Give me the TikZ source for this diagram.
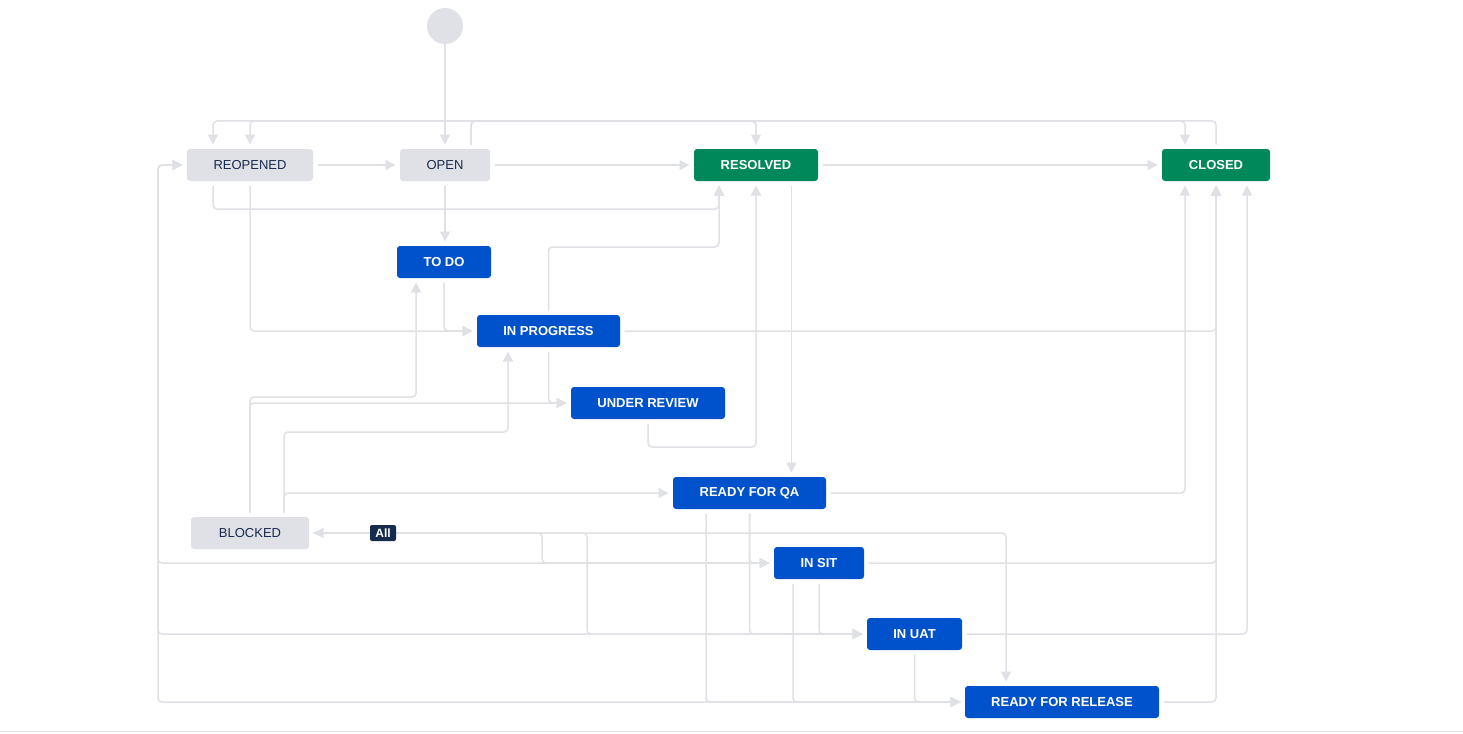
\documentclass[tikz,border=0pt]{standalone}
\usepackage{fontspec}
\setmainfont{Liberation Sans}
\usetikzlibrary{arrows.meta}
\definecolor{wfblue}{HTML}{0052CC}
\definecolor{wfgreen}{HTML}{00875A}
\definecolor{wfgray}{HTML}{DFE1E6}
\definecolor{wfink}{HTML}{172B4D}
\definecolor{wfline}{HTML}{DFE1E6}
\pgfdeclarelayer{canvas}
\pgfdeclarelayer{edges}
\pgfsetlayers{canvas,edges,main}

\begin{document}
\begin{tikzpicture}[x=1pt,y=-1pt,
  status/.style={rectangle, rounded corners=3pt, minimum height=32pt,
    inner sep=0pt, outer sep=4.5pt},
  progress/.style={status, fill=wfblue, text=white,
    font=\fontsize{13}{15}\selectfont\bfseries},
  done/.style={status, fill=wfgreen, text=white,
    font=\fontsize{13}{15}\selectfont\bfseries},
  waiting/.style={status, fill=wfgray, text=wfink,
    font=\fontsize{13}{15}\selectfont},
  edge/.style={draw=wfline, line width=1.5pt, rounded corners=4pt,
    -{Triangle[length=10pt,width=10pt]}},
]
% canvas
\useasboundingbox (0,0) rectangle (1463,733);
\begin{pgfonlayer}{canvas}
\fill[white] (0,0) rectangle (1463,733);
\draw[wfline, line width=1pt] (0,731) -- (1463,731);
\end{pgfonlayer}

% statuses
\node[circle, fill=wfgray, minimum size=36pt, inner sep=0pt, outer sep=0pt] (start) at (445,26) {};
\node[waiting, minimum width=126pt] (reopened) at (250,165) {REOPENED};
\node[waiting, minimum width=90pt]  (open)     at (445,165) {OPEN};
\node[done,    minimum width=124pt] (resolved) at (756,165) {RESOLVED};
\node[done,    minimum width=108pt] (closed)   at (1216,165) {CLOSED};
\node[progress, minimum width=94pt]  (todo)    at (444,262) {TO DO};
\node[progress, minimum width=143pt] (inprog)  at (548.5,331) {IN PROGRESS};
\node[progress, minimum width=154pt] (review)  at (648,403) {UNDER REVIEW};
\node[progress, minimum width=153pt] (qa)      at (749.5,493) {READY FOR QA};
\node[waiting,  minimum width=118pt] (blocked) at (250,533) {BLOCKED};
\node[progress, minimum width=90pt]  (insit)   at (819,563) {IN SIT};
\node[progress, minimum width=95pt]  (inuat)   at (914.5,634) {IN UAT};
\node[progress, minimum width=194pt] (release) at (1062,702) {READY FOR RELEASE};
\node[rectangle, rounded corners=2pt, fill=wfink, text=white, inner sep=0pt,
  outer sep=0pt, minimum width=26pt, minimum height=16pt,
  font=\fontsize{12}{13}\selectfont\bfseries] (all) at (383,533) {All};

\begin{pgfonlayer}{edges}
% initial transition
\draw[edge, rounded corners=0pt] (start.south) -- (open.north);
% from REOPENED
\draw[edge] (reopened.east) -- (open.west);
\draw[edge] ([xshift=-37pt]reopened.south) |- (719,209) -- ([xshift=-37pt]resolved.south);
\draw[edge] (reopened.south) |- (inprog.west);
% from OPEN
\draw[edge] (open.east) -- (resolved.west);
\draw[edge] ([xshift=26pt]open.north) |- (756,121) -- (resolved.north);
\draw[edge] ([xshift=26pt]open.north) |- (1185,121) -- ([xshift=-31pt]closed.north);
\draw[edge] (open.south) -- (open.south |- todo.north);
% from RESOLVED
\draw[edge] (resolved.east) -- (closed.west);
\draw[edge] (resolved.north) |- (213,121) -- ([xshift=-37pt]reopened.north);
\draw[edge] ([xshift=35.5pt]resolved.south) coordinate (rs) -- (rs |- qa.north);
% from CLOSED
\draw[edge] (closed.north) |- (250,121) -- (reopened.north);
% from TO DO
\draw[edge] (todo.south) |- (inprog.west);
% from IN PROGRESS
\draw[edge] (inprog.north) |- (719,247) -- ([xshift=-37pt]resolved.south);
\draw[edge] (inprog.south) |- (review.west);
\draw[edge] (inprog.east) -| (closed.south);
% from UNDER REVIEW
\draw[edge] (review.south) |- (756,447) -- (resolved.south);
% from READY FOR QA
\draw[edge] (qa.east) -| ([xshift=-31pt]closed.south);
\draw[edge] (qa.south) |- (insit.west);
\draw[edge] (qa.south) |- (inuat.west);
\draw[edge] ([xshift=-43.5pt]qa.south) |- (release.west);
% from BLOCKED
\draw[edge] (blocked.north) |- (416,397) -- ([xshift=-28pt]todo.south);
\draw[edge] (blocked.north) |- (review.west);
\draw[edge] ([xshift=34pt]blocked.north) |- (508,432) -- ([xshift=-40.5pt]inprog.south);
\draw[edge] ([xshift=34pt]blocked.north) |- (qa.west);
\draw[edge] (blocked.east) -| (542,563) -- (insit.west);
\draw[edge] (blocked.east) -| (587,634) -- (inuat.west);
\draw[edge] (blocked.east) -| ([xshift=-56pt]release.north);
% global transition
\draw[edge] (all.west) -- (blocked.east);
% from IN SIT
\draw[edge] (insit.west) -| (158,165) -- (reopened.west);
\draw[edge] (insit.south) |- (inuat.west);
\draw[edge] ([xshift=-26pt]insit.south) |- (release.west);
\draw[edge] (insit.east) -| (closed.south);
% from IN UAT
\draw[edge] (inuat.west) -| (158,165) -- (reopened.west);
\draw[edge] (inuat.south) |- (release.west);
\draw[edge] (inuat.east) -| ([xshift=31pt]closed.south);
% from READY FOR RELEASE
\draw[edge] (release.west) -| (158,165) -- (reopened.west);
\draw[edge] (release.east) -| (closed.south);
\end{pgfonlayer}
\end{tikzpicture}
\end{document}
